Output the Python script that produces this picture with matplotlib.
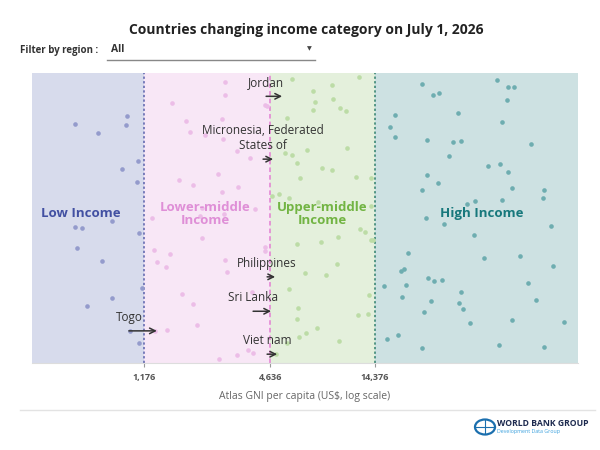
import numpy as np
import matplotlib
matplotlib.use('Agg')
import matplotlib.pyplot as plt
from matplotlib.patches import Circle

plt.rcParams['font.family'] = ['Open Sans', 'DejaVu Sans']

# income thresholds (US$)
thresholds = [1176, 4636, 14376]
tick_labels = ['1,176', '4,636', '14,376']
x_min, x_max = 350, 130000

band_names = ['Low Income', 'Lower-middle\nIncome', 'Upper-middle\nIncome', 'High Income']
band_label_x = [593, 2290, 8130, 46000]

# country dots: GNI per capita and vertical jitter (0-1)
low_gni = [556, 714, 978, 967, 1102, 926, 1090, 556, 600, 831, 1114, 568, 745,
           1151, 831, 633, 1010, 1114]
low_y = [0.831, 0.800, 0.859, 0.828, 0.700, 0.672, 0.628, 0.469, 0.466, 0.490,
         0.448, 0.393, 0.348, 0.255, 0.217, 0.190, 0.103, 0.062]

lmid_gni = [2835, 2835, 1594, 4377, 4473, 1855, 2744, 1939, 2281, 2773, 3229,
            3720, 2627, 1720, 2002, 3264, 2744, 3926, 1283, 2208, 2804, 2161,
            2208, 1311, 1560, 1354, 1494, 2835, 2897, 4377, 4377, 1776, 2002,
            3801, 1510, 2091, 1326, 3229, 2656, 3639, 3843]
lmid_y = [0.979, 0.934, 0.903, 0.897, 0.893, 0.841, 0.848, 0.803, 0.793, 0.779,
          0.734, 0.710, 0.655, 0.634, 0.617, 0.610, 0.590, 0.531, 0.500, 0.534,
          0.514, 0.507, 0.431, 0.386, 0.372, 0.345, 0.328, 0.352, 0.310, 0.397,
          0.383, 0.234, 0.197, 0.241, 0.107, 0.124, 0.103, 0.017, 0.003, 0.034,
          0.024]

umid_gni = [5870, 12150, 7370, 9060, 7530, 9160, 7370, 9880, 10550, 5560, 6910,
            10660, 5440, 5870, 6200, 8130, 9060, 6400, 11760, 13840, 5100, 5680,
            4720, 7790, 13840, 12290, 12970, 9670, 8040, 6200, 13840, 14150,
            9570, 6760, 8490, 5680, 13540, 6260, 6200, 12020, 13400, 7700, 6830,
            6330, 9780, 5560, 4930]
umid_y = [0.990, 0.997, 0.945, 0.969, 0.907, 0.917, 0.879, 0.886, 0.876, 0.852,
          0.738, 0.745, 0.728, 0.721, 0.693, 0.676, 0.669, 0.641, 0.645, 0.641,
          0.586, 0.572, 0.579, 0.555, 0.541, 0.462, 0.452, 0.434, 0.414, 0.410,
          0.421, 0.424, 0.338, 0.307, 0.300, 0.252, 0.228, 0.183, 0.145, 0.159,
          0.162, 0.114, 0.097, 0.083, 0.069, 0.059, 0.021]

high_gni = [24080, 27140, 28970, 53800, 60650, 64710, 59980, 35230, 17970, 17010,
            17970, 25430, 33370, 36390, 56810, 77850, 32290, 48780, 55580, 60650,
            25430, 28660, 24080, 63330, 89620, 88660, 56810, 42360, 38840, 25150,
            30590, 96720, 41910, 20690, 46710, 69070, 98830, 19170, 19810, 25700,
            27440, 29930, 15940, 20240, 75340, 36390, 19380, 26560, 35610, 37190,
            82160, 24620, 40120, 63330, 111400, 18560, 16470, 24080, 54980, 89620]
high_y = [0.972, 0.931, 0.941, 0.986, 0.959, 0.962, 0.914, 0.869, 0.862, 0.821,
          0.786, 0.776, 0.766, 0.772, 0.838, 0.759, 0.717, 0.683, 0.690, 0.662,
          0.652, 0.624, 0.600, 0.607, 0.597, 0.569, 0.562, 0.559, 0.548, 0.500,
          0.479, 0.472, 0.441, 0.376, 0.359, 0.366, 0.331, 0.314, 0.321, 0.290,
          0.279, 0.283, 0.262, 0.266, 0.272, 0.238, 0.221, 0.207, 0.200, 0.179,
          0.210, 0.169, 0.131, 0.141, 0.134, 0.090, 0.076, 0.041, 0.052, 0.048]

# countries changing category: old GNI -> new GNI
movers = ['Jordan', 'Micronesia, Federated\nStates of', 'Philippines', 'Sri Lanka',
          'Viet nam', 'Togo']
mover_old = [4425, 4282, 4473, 3843, 4473, 1000]
mover_new = [5264, 4775, 4880, 4672, 4988, 1354]
mover_y = [0.928, 0.707, 0.293, 0.172, 0.021, 0.103]

band_colors = ['#d7dbec', '#f8e7f6', '#e4f0dc', '#cde1e2']
dot_colors = ['#949bcc', '#ecbde7', '#bcdca6', '#6eadb0']
label_colors = ['#4250a2', '#df8fd7', '#72b443', '#17787c']
line_colors = ['#5b61ac', '#e27fd2', '#2f7f6c']

fig = plt.figure(figsize=(6, 4.5), dpi=100)
ax = fig.add_axes([32/600, 87/450, 546/600, 290/450])
ax.set_xscale('log')
ax.set_xlim(x_min, x_max)
ax.set_ylim(-0.01, 1.01)

edges = [x_min] + thresholds + [x_max]
for i in range(4):
    ax.axvspan(edges[i], edges[i+1], color=band_colors[i], lw=0, zorder=0)
for t, c, ls in zip(thresholds, line_colors, [(0, (1.5, 1.5)), (0, (3, 2)), (0, (1.5, 1.5))]):
    ax.axvline(t, color=c, lw=1.1, linestyle=ls, zorder=1)

groups = [(low_gni, low_y), (lmid_gni, lmid_y), (umid_gni, umid_y), (high_gni, high_y)]
for (g, yy), c in zip(groups, dot_colors):
    ax.scatter(g, yy, s=11, color=c, linewidths=0, zorder=2)

for i, name in enumerate(band_names):
    ax.text(band_label_x[i], 0.515, name, ha='center', va='center', fontsize=9.5,
            fontweight='bold', color=label_colors[i], linespacing=1.0, zorder=3)

for name, x0, x1, yv in zip(movers, mover_old, mover_new, mover_y):
    ax.annotate('', xy=(x1, yv), xytext=(x0, yv),
                arrowprops=dict(arrowstyle='->', color='#333333', lw=1.1,
                                shrinkA=0, shrinkB=0), zorder=4)
    ax.annotate(name, xy=(x0, yv), xytext=(0, 5), textcoords='offset points',
                ha='center', va='bottom', fontsize=8.5, color='#333333',
                linespacing=1.2, zorder=4)

ax.set_xticks(thresholds)
ax.set_xticklabels(tick_labels, fontsize=6.5, fontweight='bold', color='#555555')
ax.xaxis.set_minor_locator(matplotlib.ticker.NullLocator())
ax.tick_params(axis='x', length=3, color='#999999', pad=4)
ax.set_yticks([])
for s in ['top', 'left', 'right']:
    ax.spines[s].set_visible(False)
ax.spines['bottom'].set_color('#dddddd')
ax.set_xlabel('Atlas GNI per capita (US$, log scale)', fontsize=7.5,
              color='#666666', labelpad=7)

# title and filter
fig.text(0.51, 1 - 30/450, 'Countries changing income category on July 1, 2026',
         ha='center', va='center', fontsize=10, fontweight='bold', color='#222222')
fig.text(20/600, 1 - 50/450, 'Filter by region :', ha='left', va='center',
         fontsize=7, fontweight='bold', color='#333333')
fig.text(111/600, 1 - 50/450, 'All', ha='left', va='center', fontsize=7.5,
         fontweight='bold', color='#333333')
fig.text(309/600, 1 - 49/450, '\u25BC', ha='center', va='center', fontsize=4.5,
         color='#444444')
fig.add_artist(plt.Line2D([107/600, 315/600], [1 - 60/450, 1 - 60/450],
                          color='#888888', lw=1))

# footer
fig.add_artist(plt.Line2D([20/600, 595/600], [1 - 410/450, 1 - 410/450],
                          color='#e3e3e3', lw=1))
fig.add_artist(Circle((485/600, 1 - 427/450), 10/600, transform=fig.transFigure,
                      facecolor='none', edgecolor='#1b6fae', lw=1.6))
fig.add_artist(plt.Line2D([475/600, 495/600], [1 - 427/450, 1 - 427/450],
                          color='#1b6fae', lw=0.8))
fig.add_artist(plt.Line2D([485/600, 485/600], [1 - 420/450, 1 - 434/450],
                          color='#1b6fae', lw=0.8))
fig.text(497/600, 1 - 423/450, 'WORLD BANK GROUP', ha='left', va='center',
         fontsize=6.2, fontweight='bold', color='#1d2a4f')
fig.text(497/600, 1 - 432/450, 'Development Data Group', ha='left', va='center',
         fontsize=3.8, color='#3aa0dd')

fig.savefig('out.png', dpi=100)
